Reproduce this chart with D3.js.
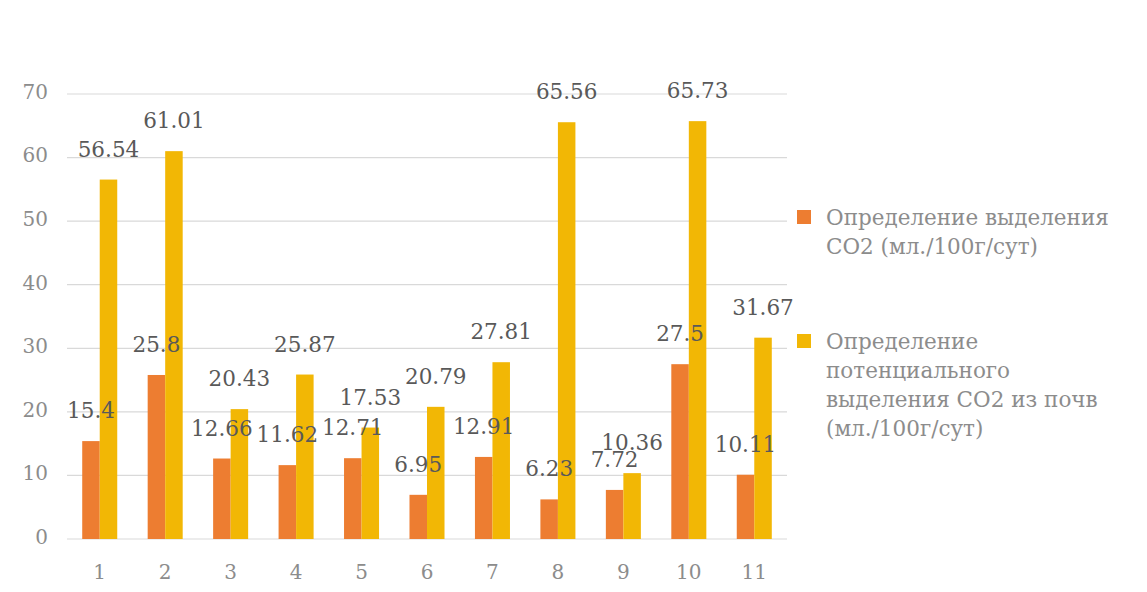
<!DOCTYPE html>
<html>
<head>
<meta charset="utf-8">
<script src="https://cdn.jsdelivr.net/npm/d3@7"></script>
<style>
  html, body { margin: 0; padding: 0; background: #ffffff; }
  svg { display: block; }
  text { font-family: "DejaVu Serif", "Liberation Serif", serif; }
</style>
</head>
<body>
<svg id="chart" width="1147" height="592"></svg>
<script>
// Sample numbers along the x axis
const categories = ["1", "2", "3", "4", "5", "6", "7", "8", "9", "10", "11"];

// CO2 release, ml / 100 g / day
const releaseCO2 = [15.4, 25.8, 12.66, 11.62, 12.71, 6.95, 12.91, 6.23, 7.72, 27.5, 10.11];

// Potential CO2 release from soils, ml / 100 g / day
const potentialCO2 = [56.54, 61.01, 20.43, 25.87, 17.53, 20.79, 27.81, 65.56, 10.36, 65.73, 31.67];

const yTicks = [0, 10, 20, 30, 40, 50, 60, 70];

const seriesNames = [
  ["Определение выделения", "CO2 (мл./100г/сут)"],
  ["Определение", "потенциального", "выделения CO2 из почв", "(мл./100г/сут)"]
];

const series = [
  { key: "release", values: releaseCO2, color: "#ED7D31", name: seriesNames[0] },
  { key: "potential", values: potentialCO2, color: "#F2B705", name: seriesNames[1] }
];

const svg = d3.select("#chart");
const plot = { left: 67, right: 787, top: 94, bottom: 539 };

const x = d3.scaleBand().domain(categories).range([plot.left, plot.right]).paddingInner(0).paddingOuter(0);
const groupW = x.bandwidth() * 0.535;
const xs = d3.scaleBand().domain(series.map(s => s.key))
  .range([(x.bandwidth() - groupW) / 2, (x.bandwidth() + groupW) / 2]);
const y = d3.scaleLinear().domain([0, 70]).range([plot.bottom, plot.top]);

// Horizontal gridlines
svg.append("g").selectAll("line").data(yTicks).join("line")
  .attr("x1", plot.left).attr("x2", plot.right)
  .attr("y1", d => y(d)).attr("y2", d => y(d))
  .attr("stroke", "#d9d9d9").attr("stroke-width", 1.2);

// Y axis labels
const yAxis = d3.axisLeft(y).tickValues(yTicks).tickSize(0).tickPadding(0);
const gy = svg.append("g").attr("transform", `translate(${plot.left - 10},0)`).call(yAxis);
gy.select(".domain").remove();
gy.selectAll("text")
  .attr("x", -9).attr("dy", "0.22em").attr("text-anchor", "end")
  .attr("font-size", 20).attr("fill", "#8c8c8c");

// X axis labels
const xAxis = d3.axisBottom(x).tickSize(0).tickPadding(0);
const gx = svg.append("g").attr("transform", `translate(0,${plot.bottom})`).call(xAxis);
gx.select(".domain").remove();
gx.selectAll("text")
  .attr("y", 40).attr("dy", 0)
  .attr("font-size", 20).attr("fill", "#8c8c8c");

// Bars
const groups = svg.append("g").selectAll("g").data(series).join("g")
  .attr("fill", d => d.color);
groups.selectAll("rect").data(s => s.values.map((v, i) => ({ s, v, c: categories[i] }))).join("rect")
  .attr("x", d => x(d.c) + xs(d.s.key))
  .attr("width", xs.bandwidth())
  .attr("y", d => y(d.v))
  .attr("height", d => y(0) - y(d.v));

// Value labels above each bar
const labels = svg.append("g");
series.forEach(s => {
  labels.selectAll(null).data(s.values.map((v, i) => ({ v, c: categories[i] }))).join("text")
    .attr("x", d => x(d.c) + xs(s.key) + xs.bandwidth() / 2)
    .attr("y", d => y(d.v) - 23)
    .attr("text-anchor", "middle")
    .attr("font-size", 21.5)
    .attr("fill", "#595959")
    .text(d => String(d.v));
});

// Legend
const legend = svg.append("g");
const legendItems = [
  { s: series[0], mid: 217 },
  { s: series[1], mid: 341 }
];
legendItems.forEach(item => {
  legend.append("rect")
    .attr("x", 797).attr("y", item.mid - 7).attr("width", 14).attr("height", 14)
    .attr("fill", item.s.color);
  const t = legend.append("text")
    .attr("x", 826).attr("y", item.mid + 8)
    .attr("font-size", 21.5).attr("fill", "#8c8c8c");
  item.s.name.forEach((line, i) => {
    t.append("tspan").attr("x", 826).attr("dy", i === 0 ? 0 : 29).text(line);
  });
});
</script>
</body>
</html>
